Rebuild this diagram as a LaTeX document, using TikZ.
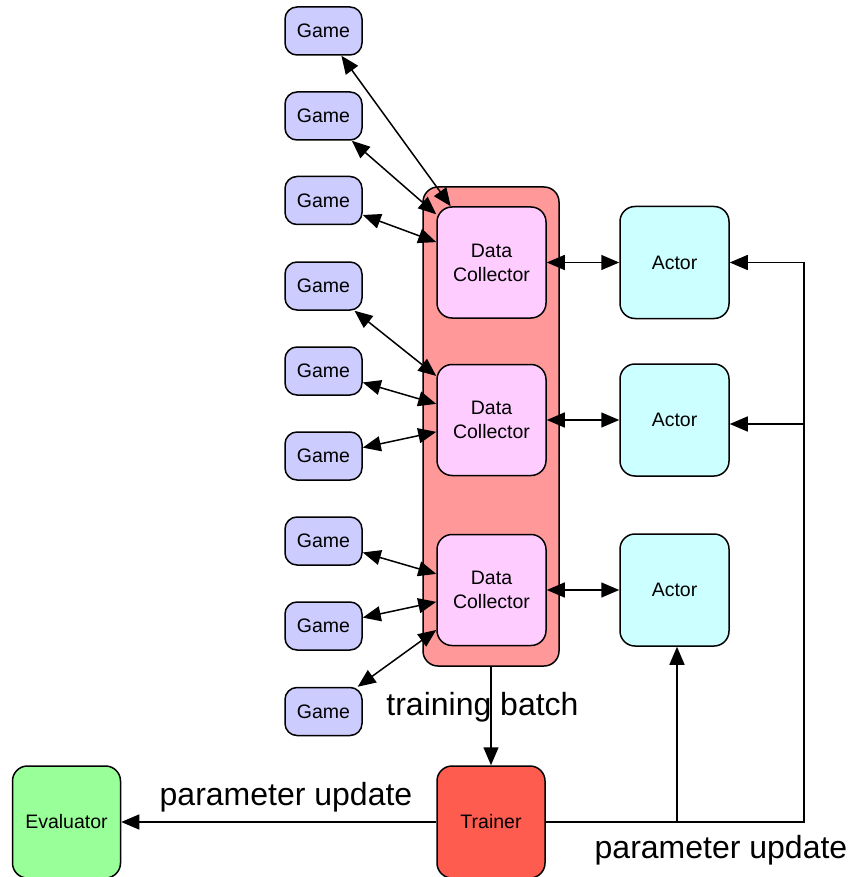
\documentclass[tikz,border=0pt]{standalone}
\usepackage{fontspec}
\setmainfont{Liberation Sans}
\usetikzlibrary{arrows.meta}

\definecolor{gamefill}{HTML}{CCCCFF}
\definecolor{dcfill}{HTML}{FFCCFF}
\definecolor{actorfill}{HTML}{CCFFFF}
\definecolor{poolfill}{HTML}{FF9999}
\definecolor{trainerfill}{HTML}{FF5C50}
\definecolor{evalfill}{HTML}{99FF99}

\begin{document}
\begin{tikzpicture}[x=1pt, y=-1pt, line width=1.5pt,
  box/.style={draw=black, line width=1.5pt, align=center, inner sep=0pt,
    font=\fontsize{19.5}{24}\selectfont},
  gamebox/.style={box, fill=gamefill, rounded corners=12pt,
    minimum width=77pt, minimum height=48pt},
  dcbox/.style={box, fill=dcfill, rounded corners=15pt,
    minimum width=109pt, minimum height=111pt},
  actorbox/.style={box, fill=actorfill, rounded corners=15pt,
    minimum width=109pt, minimum height=112pt},
  poolbox/.style={draw=black, line width=1.5pt, fill=poolfill,
    rounded corners=15pt, minimum width=136pt, minimum height=479pt},
  trainerbox/.style={box, fill=trainerfill, rounded corners=15pt,
    minimum width=108pt, minimum height=112pt},
  evalbox/.style={box, fill=evalfill, rounded corners=15pt,
    minimum width=108pt, minimum height=112pt},
  tip/.tip={Triangle[length=18pt, width=15pt]},
  link/.style={-tip},
  both/.style={tip-tip},
  biglabel/.style={font=\fontsize{32}{38}\selectfont, inner sep=0pt}
]
\useasboundingbox (0,0) rectangle (850,877);

% collector pool and its three data collectors
\node[poolbox] (pool) at (491,426.5) {};
\node[dcbox] (dc1) at (491.5,262.5) {Data\\Collector};
\node[dcbox] (dc2) at (491.5,420) {Data\\Collector};
\node[dcbox] (dc3) at (491.5,590) {Data\\Collector};

% game environments
\node[gamebox] (g1) at (323.5,31) {Game};
\node[gamebox] (g2) at (323.5,116) {Game};
\node[gamebox] (g3) at (323.5,200.5) {Game};
\node[gamebox] (g4) at (323.5,286) {Game};
\node[gamebox] (g5) at (323.5,371) {Game};
\node[gamebox] (g6) at (323.5,456) {Game};
\node[gamebox] (g7) at (323.5,541) {Game};
\node[gamebox] (g8) at (323.5,626) {Game};
\node[gamebox] (g9) at (323.5,711.5) {Game};

% actors
\node[actorbox] (a1) at (674.5,262.5) {Actor};
\node[actorbox] (a2) at (674.5,420) {Actor};
\node[actorbox] (a3) at (674.5,590) {Actor};

% trainer and evaluator
\node[trainerbox] (tr) at (491,822) {Trainer};
\node[evalbox] (ev) at (66.5,822) {Evaluator};

% games <-> data collectors
\foreach \g in {g1,g2,g3} \draw[both] (\g) -- (dc1);
\foreach \g in {g4,g5,g6} \draw[both] (\g) -- (dc2);
\foreach \g in {g7,g8,g9} \draw[both] (\g) -- (dc3);

% data collectors <-> actors
\draw[both] (dc1.east) -- (a1.west);
\draw[both] (dc2.east) -- (a2.west);
\draw[both] (dc3.east) -- (a3.west);

% training batch
\draw[link] (pool.south) -- (tr.north);
\node[biglabel] (lbatch) at (482.5,707) {training batch};

% parameter updates
\coordinate (rc) at (804,822);
\coordinate (bx) at (677,822);
\draw[link] (tr.east) -- (rc) -- (rc |- a1.east) -- (a1.east);
\draw[link] ([yshift=-4pt]rc |- a2.east) -- ([yshift=-4pt]a2.east);
\draw[link] (bx) -- (bx |- a3.south);
\draw[link] (tr.west) -- (ev.east);
\node[biglabel] (lpe) at (286,797) {parameter update};
\node[biglabel] (lpa) at (721,850) {parameter update};
\end{tikzpicture}
\end{document}
